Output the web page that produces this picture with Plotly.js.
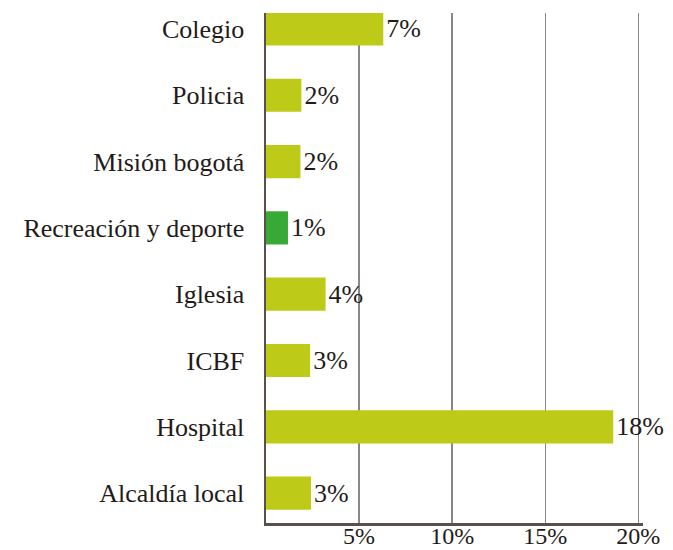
<!DOCTYPE html>
<html>
<head>
<meta charset="utf-8">
<script src="https://cdn.plot.ly/plotly-3.0.1.min.js"></script>
<style>html,body{margin:0;padding:0;background:#fff;}#chart{width:673px;height:550px;}</style>
</head>
<body>
<div id="chart"></div>
<script>
// Categories listed top to bottom as in the picture
const categories = ["Colegio", "Policia", "Misión bogotá", "Recreación y deporte", "Iglesia", "ICBF", "Hospital", "Alcaldía local"];
// Bar lengths (percent)
const values = [6.3, 1.9, 1.85, 1.18, 3.2, 2.37, 18.65, 2.42];
// Printed labels
const labels = ["7%", "2%", "2%", "1%", "4%", "3%", "18%", "3%"];
const barColors = ["#bdca17", "#bdca17", "#bdca17", "#38a935", "#bdca17", "#bdca17", "#bdca17", "#bdca17"];
const tickValues = [5, 10, 15, 20];
const tickLabels = ["5%", "10%", "15%", "20%"];

const font = {family: "Liberation Serif, Times New Roman, serif", size: 26, color: "#241b19"};

const trace = {
  type: "bar",
  orientation: "h",
  y: categories.slice().reverse(),
  x: values.slice().reverse(),
  text: labels.slice().reverse(),
  textposition: "outside",
  constraintext: "none",
  cliponaxis: false,
  textfont: font,
  marker: {color: barColors.slice().reverse(), line: {width: 0}},
  hoverinfo: "skip"
};

const layout = {
  width: 673, height: 550,
  margin: {l: 266, r: 30, t: 13, b: 27},
  paper_bgcolor: "#fff", plot_bgcolor: "#fff",
  showlegend: false,
  bargap: 0.5,
  font: font,
  xaxis: {
    range: [0, 20.25],
    tickvals: tickValues,
    ticktext: tickLabels,
    showgrid: true, gridcolor: "#8c8785", gridwidth: 1.5,
    zeroline: false,
    showline: true, linecolor: "#5a504b", linewidth: 2.5,
    ticks: "", ticklabelstandoff: -10, tickfont: {family: font.family, size: 24, color: font.color}, fixedrange: true
  },
  yaxis: {
    type: "category",
    range: [-0.45, 7.24],
    showgrid: false, zeroline: false,
    showline: true, linecolor: "#5a504b", linewidth: 2.5,
    ticks: "", ticklabelstandoff: 14, tickfont: font, fixedrange: true
  }
};

Plotly.newPlot("chart", [trace], layout, {displayModeBar: false, staticPlot: true});
</script>
</body>
</html>
